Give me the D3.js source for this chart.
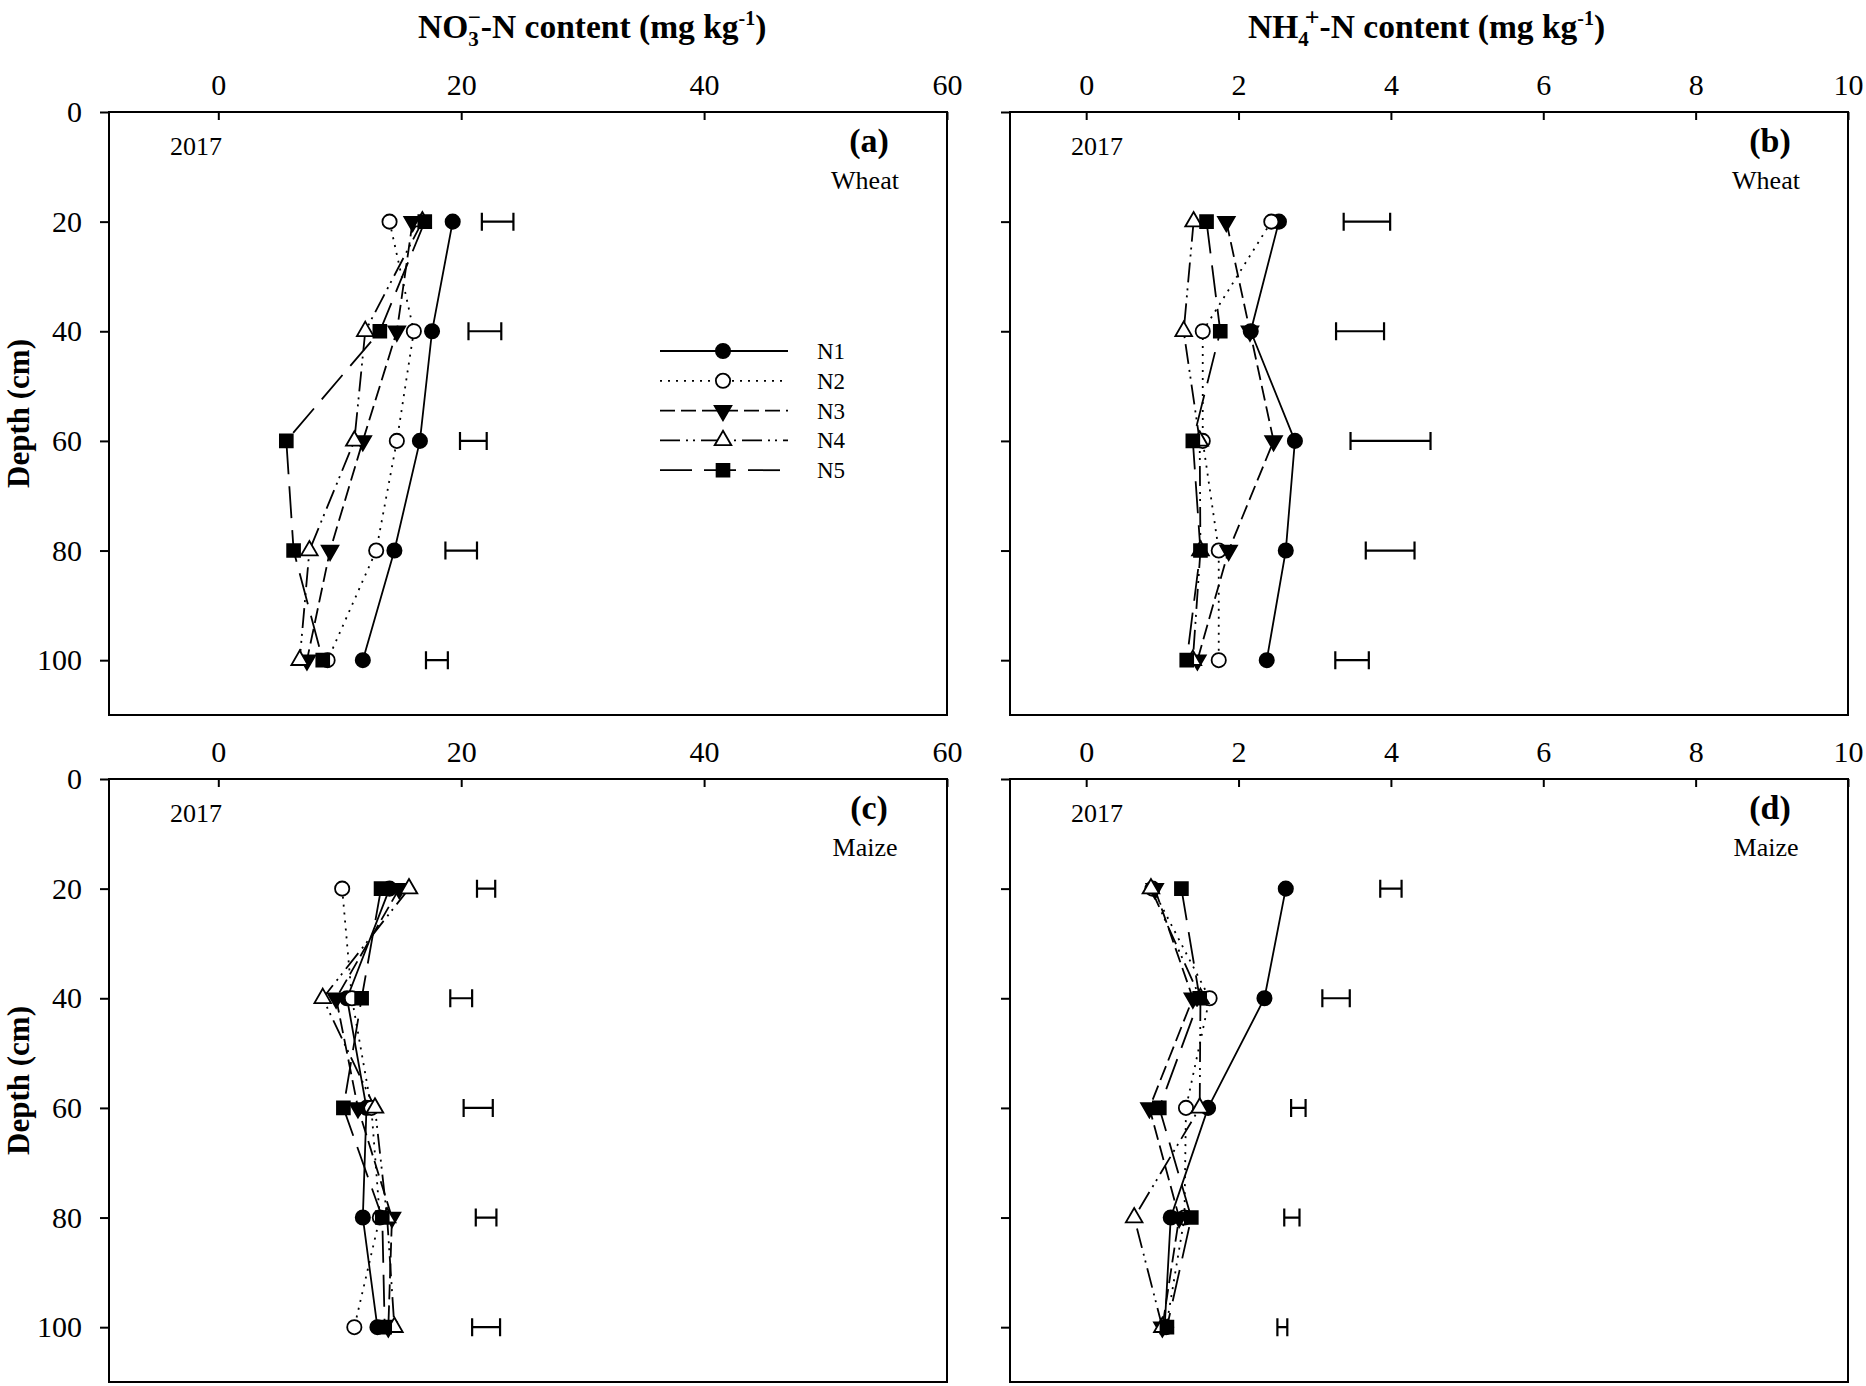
<!DOCTYPE html>
<html>
<head>
<meta charset="utf-8">
<script src="https://cdn.jsdelivr.net/npm/d3@7"></script>
<style>
  body { margin: 0; background: #fff; }
  text { font-family: "Liberation Serif", "Times New Roman", serif; fill: #000; }
</style>
</head>
<body>
<script>
// depth levels (cm) and treatment names
var depths = [20, 40, 60, 80, 100];
var treatments = ["N1", "N2", "N3", "N4", "N5"];

var no3Ticks = [0, 20, 40, 60];
var nh4Ticks = [0, 2, 4, 6, 8, 10];
var depthTicks = [0, 20, 40, 60, 80, 100];

// NO3--N, wheat (a): one row per treatment, values at each depth
var no3Wheat = [
    [19.3, 17.6, 16.6, 14.5, 11.9],
    [14.1, 16.1, 14.7, 13.0, 9.0],
    [16.0, 14.7, 11.9, 9.2, 7.3],
    [16.8, 12.1, 11.2, 7.5, 6.7],
    [17.0, 13.3, 5.6, 6.2, 8.6]
];
var no3WheatLsd = [[21.7, 24.3], [20.6, 23.3], [19.9, 22.1], [18.7, 21.3], [17.1, 18.9]];

// NH4+-N, wheat (b)
var nh4Wheat = [
    [2.53, 2.16, 2.74, 2.62, 2.37],
    [2.43, 1.53, 1.53, 1.74, 1.74],
    [1.84, 2.15, 2.46, 1.87, 1.46],
    [1.41, 1.28, 1.49, 1.50, 1.40],
    [1.58, 1.76, 1.40, 1.50, 1.32]
];
var nh4WheatLsd = [[3.38, 3.99], [3.28, 3.91], [3.47, 4.52], [3.67, 4.31], [3.27, 3.71]];

// NO3--N, maize (c)
var no3Maize = [
    [14.1, 10.6, 12.2, 11.9, 13.1],
    [10.2, 11.0, 12.6, 13.3, 11.2],
    [14.9, 9.7, 11.5, 14.3, 14.0],
    [15.7, 8.6, 12.9, 13.9, 14.5],
    [13.4, 11.8, 10.3, 13.5, 13.7]
];
var no3MaizeLsd = [[21.3, 22.8], [19.1, 20.9], [20.2, 22.6], [21.2, 22.9], [20.9, 23.2]];

// NH4+-N, maize (d)
var nh4Maize = [
    [2.62, 2.34, 1.60, 1.11, 1.03],
    [0.87, 1.62, 1.31, 1.29, 1.05],
    [0.90, 1.40, 0.83, 1.22, 1.00],
    [0.85, 1.50, 1.49, 0.63, 1.00],
    [1.25, 1.49, 0.96, 1.38, 1.06]
];
var nh4MaizeLsd = [[3.86, 4.14], [3.10, 3.46], [2.69, 2.88], [2.60, 2.80], [2.51, 2.64]];

var w = 1866, h = 1386;
var svg = d3.select("body").append("svg").attr("width", w).attr("height", h);
svg.append("rect").attr("width", w).attr("height", h).attr("fill", "#fff");

// line and marker style per treatment
var dashes = [null, "2,6", "15,6", "20,6,2,5,2,6", "32,12"];
var symbols = [
    { type: d3.symbolCircle, size: 160, fill: "#000", rot: 0 },
    { type: d3.symbolCircle, size: 160, fill: "#fff", rot: 0 },
    { type: d3.symbolTriangle, size: 120, fill: "#000", rot: 180 },
    { type: d3.symbolTriangle, size: 120, fill: "#fff", rot: 0 },
    { type: d3.symbolSquare, size: 165, fill: "#000", rot: 0 }
];

var colA = [109, 947], colB = [1010, 1848];
var rowTop = [112, 779];
var plotH = 603;

var panels = [
    { cols: colA, top: rowTop[0], dom: [-9, 60], ticks: no3Ticks, vals: no3Wheat, lsd: no3WheatLsd, tag: "(a)", crop: "Wheat", ylab: true, legend: true },
    { cols: colB, top: rowTop[0], dom: [-1, 10], ticks: nh4Ticks, vals: nh4Wheat, lsd: nh4WheatLsd, tag: "(b)", crop: "Wheat", ylab: false, legend: false },
    { cols: colA, top: rowTop[1], dom: [-9, 60], ticks: no3Ticks, vals: no3Maize, lsd: no3MaizeLsd, tag: "(c)", crop: "Maize", ylab: true, legend: false },
    { cols: colB, top: rowTop[1], dom: [-1, 10], ticks: nh4Ticks, vals: nh4Maize, lsd: nh4MaizeLsd, tag: "(d)", crop: "Maize", ylab: false, legend: false }
];

function marker(g, i, x, y) {
    var s = symbols[i];
    g.append("path")
        .attr("d", d3.symbol().type(s.type).size(s.size)())
        .attr("transform", "translate(" + x + "," + y + ") rotate(" + s.rot + ")")
        .attr("fill", s.fill)
        .attr("stroke", "#000")
        .attr("stroke-width", 1.8);
}

panels.forEach(function (p) {
    var xScale = d3.scaleLinear().domain(p.dom).range(p.cols);
    var yScale = d3.scaleLinear().domain([0, 110]).range([p.top, p.top + plotH]);
    var g = svg.append("g");

    // top axis, ticks pointing inward
    var xAxis = d3.axisTop(xScale).tickValues(p.ticks).tickSize(-8).tickSizeOuter(0).tickPadding(17);
    var gx = g.append("g").attr("transform", "translate(0," + p.top + ")").call(xAxis);
    gx.select(".domain").remove();
    gx.selectAll("line").attr("stroke-width", 2);
    gx.selectAll("text").attr("font-size", "30px").style("font-family", "Liberation Serif");

    // left axis, ticks pointing outward
    var yAxis = d3.axisLeft(yScale).tickValues(depthTicks).tickSize(9).tickSizeOuter(0).tickPadding(18);
    if (!p.ylab) yAxis.tickFormat("");
    var gy = g.append("g").attr("transform", "translate(" + p.cols[0] + ",0)").call(yAxis);
    gy.select(".domain").remove();
    gy.selectAll("line").attr("stroke-width", 2);
    gy.selectAll("text").attr("font-size", "30px").style("font-family", "Liberation Serif");

    // frame
    g.append("rect")
        .attr("x", p.cols[0]).attr("y", p.top)
        .attr("width", p.cols[1] - p.cols[0]).attr("height", plotH)
        .attr("fill", "none").attr("stroke", "#000").attr("stroke-width", 2);

    // annotations
    g.append("text").attr("x", p.cols[0] + 87).attr("y", p.top + 43)
        .attr("text-anchor", "middle").attr("font-size", "26px").text("2017");
    g.append("text").attr("x", p.cols[1] - 78).attr("y", p.top + 40)
        .attr("text-anchor", "middle").attr("font-size", "34px").attr("font-weight", "bold").text(p.tag);
    g.append("text").attr("x", p.cols[1] - 82).attr("y", p.top + 77)
        .attr("text-anchor", "middle").attr("font-size", "26px").text(p.crop);

    // LSD bars
    p.lsd.forEach(function (b, j) {
        var y = yScale(depths[j]), x1 = xScale(b[0]), x2 = xScale(b[1]);
        g.append("path")
            .attr("d", "M" + x1 + "," + y + "H" + x2 + "M" + x1 + "," + (y - 9) + "V" + (y + 9) + "M" + x2 + "," + (y - 9) + "V" + (y + 9))
            .attr("fill", "none").attr("stroke", "#000").attr("stroke-width", 2.2);
    });

    // profile lines
    var line = d3.line()
        .x(function (d) { return xScale(d[0]); })
        .y(function (d) { return yScale(d[1]); });
    p.vals.forEach(function (vals, i) {
        g.append("path")
            .attr("d", line(vals.map(function (v, j) { return [v, depths[j]]; })))
            .attr("fill", "none").attr("stroke", "#000").attr("stroke-width", 1.8)
            .attr("stroke-dasharray", dashes[i]);
    });
    p.vals.forEach(function (vals, i) {
        vals.forEach(function (v, j) { marker(g, i, xScale(v), yScale(depths[j])); });
    });

    // legend (panel a only)
    if (p.legend) {
        treatments.forEach(function (name, i) {
            var ly = 351 + i * 29.8;
            g.append("line").attr("x1", 660).attr("x2", 788).attr("y1", ly).attr("y2", ly)
                .attr("stroke", "#000").attr("stroke-width", 1.8).attr("stroke-dasharray", dashes[i]);
            marker(g, i, 723, ly);
            g.append("text").attr("x", 817).attr("y", ly).attr("dy", "0.35em")
                .attr("font-size", "23px").text(name);
        });
    }

    // depth label
    if (p.ylab) {
        g.append("text")
            .attr("transform", "translate(29," + (p.top + plotH / 2) + ") rotate(-90)")
            .attr("text-anchor", "middle").attr("font-size", "31px").attr("font-weight", "bold")
            .text("Depth (cm)");
    }
});

// column titles
var t1 = svg.append("text").attr("x", 418).attr("y", 38)
    .attr("font-size", "33.5px").attr("font-weight", "bold");
t1.append("tspan").text("NO");
t1.append("tspan").attr("font-size", "21px").attr("dy", 8).text("3");
t1.append("tspan").attr("font-size", "23px").attr("dx", -11).attr("dy", -21).text("\u2212");
t1.append("tspan").attr("dy", 13).text("-N content (mg kg");
t1.append("tspan").attr("font-size", "20px").attr("dy", -13).text("-1");
t1.append("tspan").attr("dy", 13).text(")");

var t2 = svg.append("text").attr("x", 1248).attr("y", 38)
    .attr("font-size", "33.5px").attr("font-weight", "bold");
t2.append("tspan").text("NH");
t2.append("tspan").attr("font-size", "21px").attr("dy", 8).text("4");
t2.append("tspan").attr("font-size", "26px").attr("dx", -4).attr("dy", -20).text("+");
t2.append("tspan").attr("dy", 12).text("-N content (mg kg");
t2.append("tspan").attr("font-size", "20px").attr("dy", -13).text("-1");
t2.append("tspan").attr("dy", 13).text(")");
</script>
</body>
</html>
